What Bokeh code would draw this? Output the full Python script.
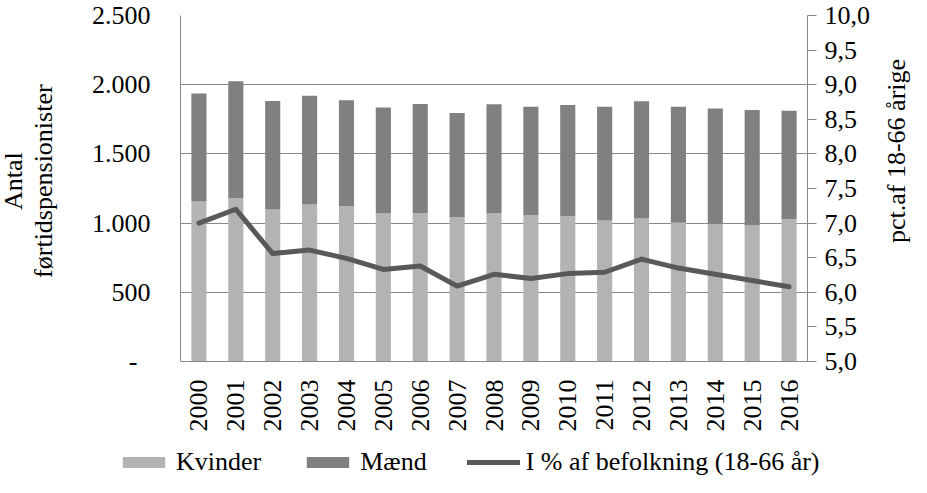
from math import pi
from bokeh.plotting import figure
from bokeh.layouts import row, column
from bokeh.models import (ColumnDataSource, FactorRange, Range1d, LinearAxis, FixedTicker,
                          Legend, LegendItem, Label)
from bokeh.embed import file_html
from bokeh.resources import INLINE

# ---- data ----
years = [str(y) for y in range(2000, 2017)]
kvinder = [1156, 1182, 1099, 1135, 1121, 1071, 1071, 1042, 1071, 1056, 1049, 1018, 1033, 1002, 995, 985, 1028]
maend = [781, 843, 784, 786, 766, 764, 790, 753, 788, 784, 805, 822, 847, 838, 833, 833, 783]
pct = [7.00, 7.20, 6.56, 6.61, 6.49, 6.33, 6.38, 6.09, 6.26, 6.20, 6.27, 6.29, 6.48, 6.35, 6.26, 6.17, 6.08]

left_ticks = [0, 500, 1000, 1500, 2000, 2500]
left_tick_labels = ["-\u00a0\u00a0", "500", "1.000", "1.500", "2.000", "2.500"]
right_ticks = [5.0, 5.5, 6.0, 6.5, 7.0, 7.5, 8.0, 8.5, 9.0, 9.5, 10.0]
right_tick_labels = ["5,0", "5,5", "6,0", "6,5", "7,0", "7,5", "8,0", "8,5", "9,0", "9,5", "10,0"]

series_names = ["Kvinder", "Mænd", "I % af befolkning (18-66 år)"]
left_title_lines = ["Antal", "førtidspensionister"]
right_title = "pct.af 18-66 årige"

FONT = "Liberation Serif"
FS = "26px"
GRID = "#898989"
C_K, C_M, C_L = "#b3b3b3", "#808080", "#595959"

MAIN_H = 447
LEFT_W, RIGHT_W = 60, 31
MAIN_W = 911 - LEFT_W - RIGHT_W

src = ColumnDataSource(dict(year=years, kvinder=kvinder, maend=maend, pct=pct,
                            idx=list(range(len(years)))))

p = figure(width=MAIN_W, height=MAIN_H, x_range=FactorRange(*years), y_range=Range1d(0, 2500),
           output_backend="svg", toolbar_location=None,
           min_border_left=180 - LEFT_W, min_border_right=MAIN_W - (807 - LEFT_W),
           min_border_top=15, min_border_bottom=86)
p.outline_line_color = None
p.extra_y_ranges = {"pct": Range1d(5, 10)}

bars = p.vbar_stack(["kvinder", "maend"], x="year", width=0.41, source=src,
                    fill_color=[C_K, C_M], line_color=None)
line = p.line("year", "pct", source=src, y_range_name="pct", line_width=5,
              line_color=C_L, line_join="round", line_cap="round")

# left axis
ya = p.yaxis[0]
ya.ticker = FixedTicker(ticks=left_ticks)
ya.major_label_overrides = {t: l for t, l in zip(left_ticks, left_tick_labels)}
ya.major_tick_out = 0
ya.major_tick_in = 0
ya.minor_tick_out = 0
ya.minor_tick_in = 0
ya.major_label_standoff = 30
ya.axis_line_color = GRID

# bottom axis
xa = p.xaxis[0]
xa.major_label_orientation = pi / 2
xa.major_tick_out = 0
xa.major_tick_in = 0
xa.major_label_standoff = 18
xa.axis_line_color = GRID

# right axis
ra = LinearAxis(y_range_name="pct", ticker=FixedTicker(ticks=right_ticks))
ra.major_label_overrides = {t: l for t, l in zip(right_ticks, right_tick_labels)}
ra.major_tick_out = 9
ra.major_tick_in = 0
ra.minor_tick_out = 0
ra.minor_tick_in = 0
ra.major_label_standoff = 8
ra.axis_line_color = GRID
ra.major_tick_line_color = GRID
p.add_layout(ra, "right")

for ax in (xa, ya, ra):
    ax.major_label_text_font = FONT
    ax.major_label_text_font_size = FS
    ax.major_label_text_color = "black"

p.xgrid.visible = False
p.ygrid.grid_line_color = GRID
p.ygrid.grid_line_width = 1


def blank(w, h):
    f = figure(width=w, height=h, x_range=Range1d(0, w), y_range=Range1d(0, h),
               x_axis_type=None, y_axis_type=None, output_backend="svg",
               toolbar_location=None, min_border=0)
    f.outline_line_color = None
    f.grid.visible = False
    return f


def vtext(f, x, y_from_top, txt):
    f.add_layout(Label(x=x, y=MAIN_H - y_from_top, text=txt, angle=pi / 2,
                       text_align="center", text_baseline="middle", text_font=FONT,
                       text_font_size=FS, text_color="black"))


# left axis title (two lines)
lf = blank(LEFT_W, MAIN_H)
vtext(lf, 13, 214, left_title_lines[0])
vtext(lf, 43, 214, left_title_lines[1])

# right axis title
rf = blank(RIGHT_W, MAIN_H)
vtext(rf, 16, 175, right_title)

# legend strip below (proxy renderers are hidden; only their legend swatches show)
LEG_H = 477 - MAIN_H
lg = blank(911, LEG_H)
lk = lg.vbar(x="idx", top="kvinder", width=0.41, source=src, fill_color=C_K, line_color=None, visible=False)
lm = lg.vbar(x="idx", top="maend", width=0.41, source=src, fill_color=C_M, line_color=None, visible=False)
ll = lg.line(x="idx", y="pct", source=src, line_width=5, line_color=C_L, line_cap="round", visible=False)
legend = Legend(items=[LegendItem(label=series_names[0], renderers=[lk]),
                       LegendItem(label=series_names[1], renderers=[lm]),
                       LegendItem(label=series_names[2], renderers=[ll])],
                orientation="horizontal", location=(117, 0), padding=0, margin=0,
                spacing=40, label_standoff=6, glyph_width=53, glyph_height=14,
                label_text_font=FONT, label_text_font_size=FS, label_text_color="black",
                border_line_color=None, background_fill_alpha=0,
                inactive_fill_alpha=0)
lg.add_layout(legend, "center")

layout = column(row(lf, p, rf, spacing=0), lg, spacing=0)

open("out.html", "w").write(file_html(layout, INLINE))
